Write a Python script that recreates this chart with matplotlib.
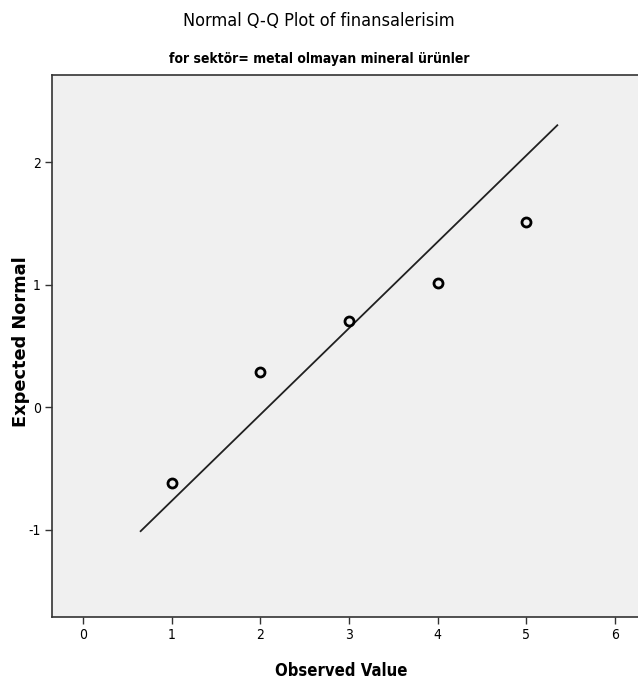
import matplotlib
matplotlib.use("Agg")
import matplotlib.pyplot as plt

# gözlenen değerler ve beklenen normal değerler
observed = [1, 2, 3, 4, 5]
expected = [-0.62, 0.29, 0.70, 1.01, 1.51]

# referans doğrusu uç noktaları
line_x = [0.65, 5.35]
line_y = [-1.01, 2.30]

x_ticks = [0, 1, 2, 3, 4, 5, 6]
y_ticks = [-1, 0, 1, 2]

narrow = dict(family='DejaVu Sans', stretch='condensed')

fig = plt.figure(figsize=(6.38, 6.91), dpi=100)
ax = fig.add_axes([0.0815, 0.1071, 0.9185, 0.7844])
ax.set_facecolor('#f0f0f0')

ax.plot(line_x, line_y, color='#202020', linewidth=1.3)
ax.plot(observed, expected, linestyle='none', marker='o', markersize=6.5,
        markerfacecolor='none', markeredgecolor='black', markeredgewidth=2)

ax.set_xlim(-0.35, 6.26)
ax.set_ylim(-1.71, 2.71)
ax.set_xticks(x_ticks)
ax.set_yticks(y_ticks)
ax.set_xticklabels([str(v) for v in x_ticks], fontsize=10, **narrow)
ax.set_yticklabels([str(v) for v in y_ticks], fontsize=10, **narrow)
ax.tick_params(direction='out', length=5, width=1, color='#333333', pad=3)

for s in ['left', 'bottom', 'top']:
    ax.spines[s].set_color('#333333')
    ax.spines[s].set_linewidth(1.2)
ax.spines['right'].set_visible(False)

# eksen başlıkları
fig.text(0.535, 0.0217, 'Observed Value', fontsize=12, fontweight='bold',
         ha='center', va='baseline', **narrow)
fig.text(0.033, 0.506, 'Expected Normal', family='DejaVu Sans', fontsize=12.8,
         fontweight='bold', rotation=90, ha='center', va='center')

# başlıklar
fig.text(0.5, 0.9624, 'Normal Q-Q Plot of finansalerisim', fontsize=13,
         ha='center', va='baseline', **narrow)
fig.text(0.5, 0.9088, 'for sektör= metal olmayan mineral ürünler', fontsize=10,
         fontweight='bold', ha='center', va='baseline', **narrow)

fig.savefig('out.png', dpi=100)
